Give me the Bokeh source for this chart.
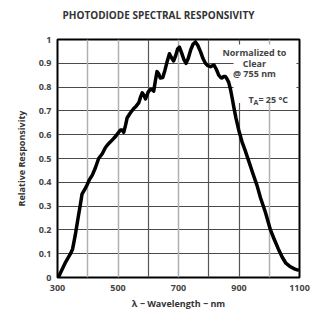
from bokeh.plotting import figure
from bokeh.models import FixedTicker, Label, Grid, BoxAnnotation, Title
from bokeh.embed import file_html
from bokeh.resources import INLINE

wavelength = [303, 310, 325, 343, 350, 359, 368, 376, 381, 390, 398, 405, 415, 425, 436,
              448, 458, 467, 475, 490, 508, 514, 519, 525, 530, 540, 552, 560, 569, 575,
              580, 586, 591, 600, 607, 613, 618, 624, 629, 635, 640, 648, 655, 663, 670,
              676, 684, 690, 697, 703, 710, 718, 725, 732, 740, 748, 756, 764, 773, 781,
              789, 797, 806, 812, 817, 825, 833, 840, 844, 850, 855, 860, 866, 872, 878,
              883, 890, 899, 910, 920, 932, 945, 960, 971, 987, 1004, 1015, 1030, 1043,
              1055, 1070, 1085, 1098]
responsivity = [0.0, 0.02, 0.06, 0.10, 0.12, 0.18, 0.25, 0.31, 0.35, 0.37, 0.39, 0.41, 0.43,
                0.46, 0.50, 0.52, 0.545, 0.56, 0.57, 0.59, 0.62, 0.62, 0.61, 0.64, 0.67,
                0.69, 0.71, 0.72, 0.735, 0.76, 0.776, 0.765, 0.75, 0.78, 0.79, 0.79, 0.783,
                0.83, 0.865, 0.855, 0.838, 0.84, 0.87, 0.91, 0.94, 0.925, 0.91, 0.93, 0.96,
                0.968, 0.945, 0.915, 0.9, 0.92, 0.955, 0.98, 0.99, 0.975, 0.948, 0.92, 0.90,
                0.89, 0.886, 0.89, 0.893, 0.875, 0.85, 0.84, 0.838, 0.845, 0.845, 0.835,
                0.82, 0.79, 0.75, 0.715, 0.67, 0.62, 0.57, 0.535, 0.49, 0.44, 0.385, 0.335,
                0.275, 0.2, 0.165, 0.12, 0.085, 0.06, 0.045, 0.035, 0.03]

x_ticks = [300, 500, 700, 900, 1100]
y_ticks = [0, 0.1, 0.2, 0.3, 0.4, 0.5, 0.6, 0.7, 0.8, 0.9, 1]
y_tick_labels = {0: "0", 0.1: "0.1", 0.2: "0.2", 0.3: "0.3", 0.4: "0.4", 0.5: "0.5",
                 0.6: "0.6", 0.7: "0.7", 0.8: "0.8", 0.9: "0.9", 1: "1"}
light_vgrid = [400, 500, 700, 1000]
dark_vgrid = [600, 800, 900]

title_text = "PHOTODIODE SPECTRAL RESPONSIVITY"
x_label = "λ − Wavelength − nm"
y_label = "Relative Responsivity"
note_lines = ["Normalized to", "Clear", "@ 755 nm"]
temp_label = ["T", "A", " = 25 °C"]

FONT = "Open Sans"
TXT = "#333333"
NOTE = "#444444"

p = figure(width=314, height=312, x_range=(300, 1100), y_range=(0, 1),
           output_backend="svg", toolbar_location=None,
           min_border_left=57, min_border_right=15, min_border_top=39, min_border_bottom=30)

# spacer between frame and title, then the title itself
spacer = Title(text=" ", text_font_size="2px", standoff=13)
main_title = Title(text=title_text, text_font=FONT, text_font_size="10px",
                   text_font_style="bold", text_color=TXT, align="left", offset=5, standoff=2)
p.add_layout(spacer, "above")
p.add_layout(main_title, "above")

p.outline_line_color = "black"
p.outline_line_width = 2

p.xaxis.ticker = FixedTicker(ticks=x_ticks)
p.yaxis.ticker = FixedTicker(ticks=y_ticks)
p.yaxis.major_label_overrides = y_tick_labels
for ax in (p.xaxis[0], p.yaxis[0]):
    ax.axis_line_color = None
    ax.major_tick_line_color = None
    ax.minor_tick_line_color = None
    ax.major_tick_out = 0
    ax.major_tick_in = 0
    ax.minor_tick_out = 0
    ax.minor_tick_in = 0
    ax.major_label_text_font = FONT
    ax.major_label_text_font_size = "9px"
    ax.major_label_text_font_style = "bold"
    ax.major_label_text_color = NOTE
    ax.axis_label_text_font = FONT
    ax.axis_label_text_font_size = "9px"
    ax.axis_label_text_font_style = "bold"
    ax.axis_label_text_color = TXT

p.xaxis.axis_label = x_label
p.yaxis.axis_label = y_label
p.xaxis.major_label_standoff = 7
p.xaxis.axis_label_standoff = 3
p.yaxis.major_label_standoff = 6
p.yaxis.axis_label_standoff = 8

p.xgrid.visible = False
p.ygrid.grid_line_color = "#4a4a4a"
p.ygrid.grid_line_width = 1.2
p.ygrid.ticker = FixedTicker(ticks=y_ticks)

g1 = Grid(dimension=0, ticker=FixedTicker(ticks=light_vgrid), grid_line_color="#b0b0b0", grid_line_width=1.5)
g2 = Grid(dimension=0, ticker=FixedTicker(ticks=dark_vgrid), grid_line_color="#555555", grid_line_width=1.2)
p.add_layout(g1)
p.add_layout(g2)

# white panel behind the note text
p.add_layout(BoxAnnotation(left=882, right=1090, bottom=0.733, top=0.979,
                           fill_color="white", fill_alpha=1, line_color=None, level="underlay"))

p.line(wavelength, responsivity, line_color="black", line_width=3.5, line_join="round")

note_y = [0.946, 0.901, 0.856]
for t, yv in zip(note_lines, note_y):
    p.add_layout(Label(x=951, y=yv, text=t, text_align="center", text_baseline="middle",
                       text_font=FONT, text_font_size="9px", text_font_style="bold",
                       text_color=NOTE))

p.add_layout(Label(x=931, y=0.749, text=temp_label[0], text_align="left", text_baseline="middle",
                   text_font=FONT, text_font_size="9px", text_font_style="bold", text_color=NOTE))
p.add_layout(Label(x=931, y=0.749, x_offset=5, y_offset=-3, text=temp_label[1], text_align="left",
                   text_baseline="middle", text_font=FONT, text_font_size="7px",
                   text_font_style="bold", text_color=NOTE))
p.add_layout(Label(x=931, y=0.749, x_offset=10, text=temp_label[2], text_align="left",
                   text_baseline="middle", text_font=FONT, text_font_size="9px",
                   text_font_style="bold", text_color=NOTE))

open("out.html", "w").write(file_html(p, INLINE))
